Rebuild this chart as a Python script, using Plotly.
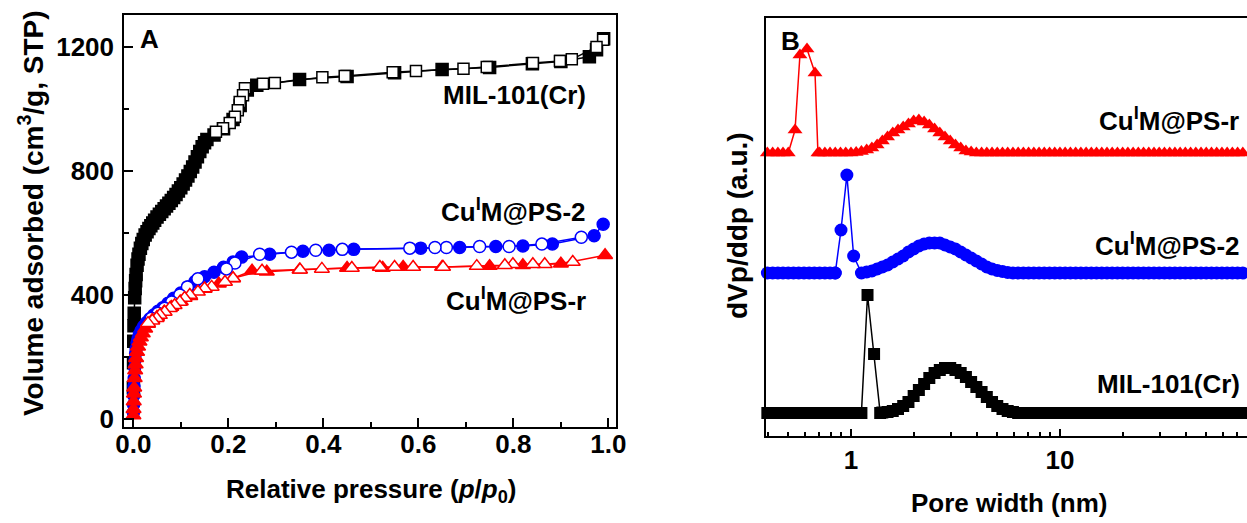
import plotly.graph_objects as go

# ---------------- Panel A: N2 isotherms ----------------
mil_ads_p = [0.0003, 0.0006, 0.001, 0.0015, 0.002, 0.003, 0.004, 0.005, 0.006, 0.008, 0.010, 0.012,
             0.015, 0.018, 0.021, 0.025, 0.029, 0.033, 0.037, 0.041, 0.045, 0.050, 0.055, 0.060,
             0.065, 0.070, 0.075, 0.080, 0.085, 0.090, 0.095, 0.100, 0.105, 0.110, 0.115, 0.120,
             0.125, 0.130, 0.135, 0.140, 0.145, 0.150, 0.155, 0.170, 0.190, 0.210, 0.225, 0.240,
             0.260, 0.350, 0.450, 0.550, 0.650, 0.750, 0.840, 0.900, 0.960, 0.975, 0.990]
mil_ads_v = [100, 180, 250, 300, 340, 390, 420, 445, 465, 495, 515, 530,
             550, 565, 578, 592, 603, 613, 622, 631, 640, 650, 659, 668,
             677, 686, 695, 704, 713, 723, 734, 745, 757, 770, 783, 797,
             812, 828, 845, 862, 877, 890, 900, 915, 935, 965, 1010, 1060,
             1075, 1094, 1104, 1116, 1126, 1133, 1145, 1152, 1167, 1190, 1225]
mil_des_p = [0.989, 0.975, 0.923, 0.898, 0.841, 0.744, 0.695, 0.595, 0.546, 0.445, 0.398,
             0.298, 0.273, 0.235, 0.231, 0.224, 0.220, 0.214, 0.203, 0.189, 0.174]
mil_des_v = [1222, 1199, 1159, 1154, 1147, 1134, 1129, 1121, 1117, 1105, 1101,
             1083, 1080, 1066, 1043, 1021, 995, 974, 954, 937, 925]

ps2_ads_p = [0.0003, 0.0006, 0.001, 0.0015, 0.002, 0.003, 0.004, 0.005, 0.006, 0.008, 0.010,
             0.013, 0.017, 0.022, 0.028, 0.035, 0.043, 0.052, 0.062, 0.073, 0.085, 0.100,
             0.115, 0.130, 0.150, 0.170, 0.190, 0.210, 0.228, 0.287, 0.357, 0.412, 0.464,
             0.605, 0.687, 0.763, 0.820, 0.882, 0.970, 0.989]
ps2_ads_v = [20, 45, 75, 105, 130, 165, 190, 210, 225, 245, 258,
             272, 285, 298, 310, 322, 334, 346, 358, 372, 388, 405,
             425, 442, 458, 472, 488, 505, 521, 530, 540, 543, 546,
             550, 552, 555, 557, 563, 590, 627]
ps2_des_p = [0.943, 0.860, 0.791, 0.729, 0.659, 0.635, 0.582, 0.440, 0.384, 0.333, 0.266,
             0.214, 0.196, 0.136, 0.114, 0.098, 0.081, 0.066, 0.052, 0.038]
ps2_des_v = [585, 563, 555, 555, 552, 552, 550, 546, 543, 537, 530,
             502, 483, 451, 425, 399, 376, 356, 340, 324]

psr_ads_p = [0.0003, 0.0006, 0.001, 0.0015, 0.002, 0.003, 0.004, 0.005, 0.006, 0.008, 0.010,
             0.013, 0.016, 0.020, 0.025, 0.031, 0.040, 0.050, 0.065, 0.080, 0.100, 0.120,
             0.150, 0.180, 0.210, 0.250, 0.281, 0.350, 0.450, 0.525, 0.568, 0.650, 0.750,
             0.820, 0.900, 0.993]
psr_ads_v = [10, 30, 55, 80, 100, 130, 155, 175, 195, 215, 232,
             248, 262, 275, 290, 305, 318, 328, 345, 360, 378, 395,
             418, 435, 452, 477, 474, 480, 486, 486, 489, 489, 492,
             495, 500, 527]
psr_des_p = [0.925, 0.866, 0.841, 0.799, 0.782, 0.723, 0.652, 0.589, 0.550, 0.519, 0.460,
             0.397, 0.351, 0.271, 0.210, 0.193, 0.165, 0.150, 0.136, 0.119, 0.108, 0.098,
             0.087, 0.077, 0.066, 0.056, 0.049, 0.040, 0.031]
psr_des_v = [505, 498, 498, 498, 495, 492, 489, 489, 489, 489, 486,
             483, 480, 477, 453, 441, 425, 420, 409, 399, 389, 376,
             366, 356, 344, 334, 324, 316, 308]

# ---------------- Panel B: pore size distributions ----------------
pore_width = [0.398, 0.422, 0.447, 0.473, 0.501, 0.531, 0.562, 0.596, 0.631, 0.668,
              0.708, 0.750, 0.794, 0.841, 0.891, 0.944, 1.000, 1.059, 1.122, 1.189,
              1.259, 1.334, 1.413, 1.496, 1.585, 1.679, 1.778, 1.884, 1.995, 2.113,
              2.239, 2.371, 2.512, 2.661, 2.818, 2.985, 3.162, 3.350, 3.548, 3.758,
              3.981, 4.217, 4.467, 4.732, 5.012, 5.309, 5.623, 5.957, 6.310, 6.683,
              7.079, 7.499, 7.943, 8.414, 8.913, 9.441, 10.00, 10.59, 11.22, 11.89,
              12.59, 13.34, 14.13, 14.96, 15.85, 16.79, 17.78, 18.84, 19.95, 21.13,
              22.39, 23.71, 25.12, 26.61, 28.18, 29.85, 31.62, 33.50, 35.48, 37.58,
              39.81, 42.17, 44.67, 47.32, 50.12, 53.09, 56.23, 59.57, 63.10, 66.83,
              70.79, 74.99, 79.43]
Z = 0
psr_psd = [Z, Z, Z, Z, Z, None, None, None, None, None,
           Z, Z, Z, Z, Z, Z, Z, 0.5, 1.5, 3,
           5, 8, 12, 16, 20, 23, 26, 29, 32, 33,
           31, 28, 24, 20, 16, 12, 8, 5, 2, 1] + [Z] * 53
psr_peak_w = [0.54, 0.57, 0.616, 0.673, 0.695]
psr_peak_v = [23, 98, 104, 80, 0]

ps2_psd = [Z, Z, Z, Z, Z, Z, Z, Z, Z, Z,
           Z, Z, Z, Z, None, None, None, None, Z, 1,
           2, 4, 6, 8, 11, 14, 17, 21, 24, 27,
           29, 30, 30, 30, 28, 26, 24, 21, 18, 15,
           12, 9, 6, 4, 2.5, 1.5, 0.5] + [Z] * 46
ps2_peak_w = [0.84, 0.896, 0.956, 1.03]
ps2_peak_v = [0, 43, 98, 17]

mil_psd = [Z, Z, Z, Z, Z, Z, Z, Z, Z, Z,
           Z, Z, Z, Z, Z, Z, Z, Z, Z, None,
           None, None, 0.5, 1, 2, 4, 7, 11, 17, 23,
           29, 35, 40, 43, 45, 45, 43, 40, 36, 31,
           26, 21, 16, 11, 7, 4, 2, 1] + [Z] * 45
mil_peak_w = [1.2, 1.29, 1.38]
mil_peak_v = [118, 59, 0]

offsets = {"MIL-101(Cr)": 22.7, "ps2": 162.7, "psr": 282.7}


def merge(grid, vals, pw, pv, off):
    pts = [(w, v) for w, v in zip(grid, vals) if v is not None] + list(zip(pw, pv))
    pts.sort()
    return [p[0] for p in pts], [p[1] + off for p in pts]


W, H = 1247, 523
FONT = "Liberation Sans, Arial, sans-serif"
fig = go.Figure()

def iso(px, vy, color, symbol, size, filled):
    fig.add_trace(go.Scatter(
        x=px, y=vy, mode="lines+markers", xaxis="x", yaxis="y",
        line=dict(color=color, width=1.5),
        marker=dict(symbol=symbol, size=size,
                    color=color if filled else "white",
                    line=dict(color=color, width=1.5)),
        showlegend=False))

iso(mil_ads_p, mil_ads_v, "black", "square", 12, True)
iso(mil_des_p, mil_des_v, "black", "square", 11, False)
iso(ps2_ads_p, ps2_ads_v, "#0000ff", "circle", 12, True)
iso(ps2_des_p, ps2_des_v, "#0000ff", "circle", 12, False)
iso(psr_ads_p, psr_ads_v, "#ff0000", "triangle-up", 13, True)
iso(psr_des_p, psr_des_v, "#ff0000", "triangle-up", 13, False)

for vals, pw, pv, off, color, symbol, size in [
        (mil_psd, mil_peak_w, mil_peak_v, offsets["MIL-101(Cr)"], "black", "square", 12),
        (ps2_psd, ps2_peak_w, ps2_peak_v, offsets["ps2"], "#0000ff", "circle", 13),
        (psr_psd, psr_peak_w, psr_peak_v, offsets["psr"], "#ff0000", "triangle-up", 13)]:
    xs, ys = merge(pore_width, vals, pw, pv, off)
    fig.add_trace(go.Scatter(
        x=xs, y=ys, mode="lines+markers", xaxis="x2", yaxis="y2",
        line=dict(color=color, width=1.5),
        marker=dict(symbol=symbol, size=size, color=color, line=dict(width=0)),
        showlegend=False, cliponaxis=False))

tickfont = dict(family=FONT, size=26, color="black", weight="bold")
axcommon = dict(showline=True, linewidth=1.5, linecolor="black", showgrid=False, zeroline=False,
                ticks="inside", tickcolor="black", tickwidth=1.5, automargin=False)

fig.update_layout(
    width=W, height=H, margin=dict(l=0, r=0, t=0, b=0),
    paper_bgcolor="white", plot_bgcolor="white",
    xaxis=dict(domain=[124 / W, 616 / W], range=[-0.0195, 1.016], tick0=0, dtick=0.2,
               tickformat=".1f", ticklen=9, mirror=True, tickfont=tickfont, anchor="y",
               minor=dict(ticks="inside", dtick=0.1, tick0=0, ticklen=5, tickcolor="black", tickwidth=1.5),
               ticklabelstandoff=-7, **axcommon),
    yaxis=dict(domain=[1 - 427 / H, 1 - 15 / H], range=[-27, 1302], tick0=0, dtick=400,
               ticklen=9, mirror=True, tickfont=tickfont, anchor="x",
               minor=dict(ticks="inside", dtick=200, tick0=0, ticklen=5, tickcolor="black", tickwidth=1.5),
               ticklabelstandoff=3, **axcommon),
    xaxis2=dict(domain=[765.7 / W, 1.0], type="log", range=[-0.408, 1.895],
                tickvals=[1, 10], ticktext=["1", "10"], ticklen=7, mirror=True, tickfont=tickfont,
                anchor="y2",
                minor=dict(ticks="inside", ticklen=4, tickcolor="black", tickwidth=1.5,
                           tickvals=[0.4, 0.5, 0.6, 0.7, 0.8, 0.9, 2, 3, 4, 5, 6, 7, 8, 9,
                                     20, 30, 40, 50, 60, 70]),
                ticklabelstandoff=0, **axcommon),
    yaxis2=dict(domain=[1 - 435.7 / H, 1 - 18 / H], range=[0, 417.7], showticklabels=False,
                anchor="x2", showline=True, linewidth=1.5, linecolor="black", showgrid=False,
                zeroline=False, ticks="", automargin=False),
)

def ann(text, x, y, angle=0, xanchor="center", size=26):
    fig.add_annotation(text=text, x=x / W, y=1 - y / H, xref="paper", yref="paper",
                       showarrow=False, textangle=angle, xanchor=xanchor, yanchor="middle",
                       font=dict(family=FONT, size=size, color="black", weight="bold"))

ann("A", 149, 39)
ann("B", 790, 41)
ann("MIL-101(Cr)", 588, 95, xanchor="right")
ann("Cu<sup>I</sup>M@PS-2", 588, 211, xanchor="right")
ann("Cu<sup>I</sup>M@PS-r", 588, 299, xanchor="right")
ann("Cu<sup>I</sup>M@PS-r", 1097, 120, xanchor="left")
ann("Cu<sup>I</sup>M@PS-2", 1093, 244, xanchor="left")
ann("MIL-101(Cr)", 1095, 384, xanchor="left")
ann("Volume adsorbed (cm<sup>3</sup>/g, STP)", 31, 213, angle=-90, size=28)
ann("Relative pressure (<i>p</i>/<i>p</i><sub>0</sub>)", 371, 490)
ann("dVp/ddp (a.u.)", 738, 226, angle=-90, size=28)
ann("Pore width (nm)", 1009, 503)

fig.write_html("out.html", config={"displayModeBar": False},
               post_script="document.body.style.margin='0';document.body.style.padding='0';")
